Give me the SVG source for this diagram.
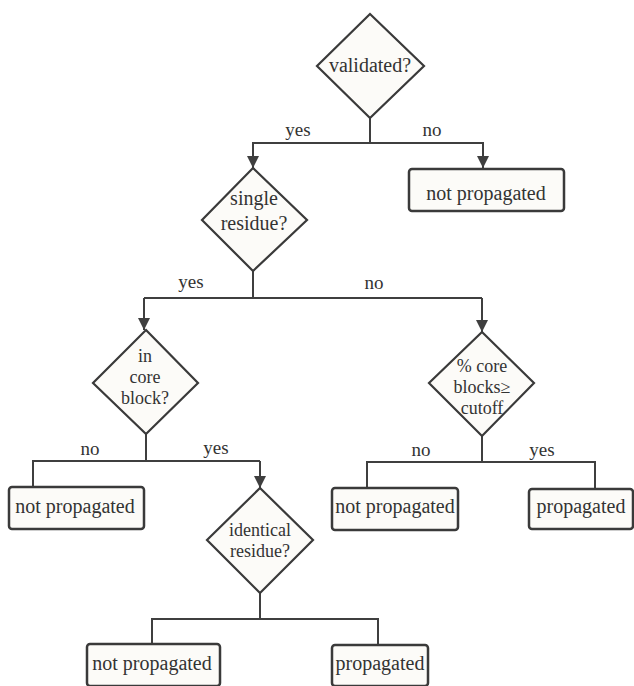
<svg xmlns="http://www.w3.org/2000/svg" width="634" height="686" viewBox="0 0 634 686">
<defs>
<style>
.bg{fill:#ffffff}
.dia{fill:#fcfbf8;stroke:#3a3a3a;stroke-width:2.2;stroke-linejoin:miter}
.box{fill:#fcfbf8;stroke:#3a3a3a;stroke-width:2.5}
.ln{fill:none;stroke:#3f3f3f;stroke-width:2}
text{font-family:"Liberation Serif","DejaVu Serif",serif;font-size:20px;fill:#333333}
.c{text-anchor:middle}
.lb{font-size:19px}
.dt{font-size:18px}
</style>
<marker id="ah" viewBox="0 0 10 10" refX="10" refY="5" markerWidth="12" markerHeight="12" markerUnits="userSpaceOnUse" orient="auto">
<path d="M0,0 L10,5 L0,10 z" fill="#3f3f3f"/>
</marker>
</defs>
<rect class="bg" x="0" y="0" width="634" height="686"/>

<g id="connectors">
<path class="ln" d="M370,118 V143"/>
<path class="ln" d="M253,168 V143 H483 V168" marker-end="url(#ah)"/>
<path class="ln" d="M253,143 V168" marker-end="url(#ah)"/>
<path class="ln" d="M253,271 V298"/>
<path class="ln" d="M144,298 H482"/>
<path class="ln" d="M144,298 V330" marker-end="url(#ah)"/>
<path class="ln" d="M482,298 V332" marker-end="url(#ah)"/>
<path class="ln" d="M146,434 V461"/>
<path class="ln" d="M33,487 V461 H260"/>
<path class="ln" d="M260,461 V488" marker-end="url(#ah)"/>
<path class="ln" d="M482,436 V462"/>
<path class="ln" d="M367,488 V462 H595 V489"/>
<path class="ln" d="M260,593 V619"/>
<path class="ln" d="M152,644 V619 H378 V645"/>
<text x="298" y="136" class="c lb">yes</text>
<text x="432" y="136" class="c lb">no</text>
<text x="191" y="288" class="c lb">yes</text>
<text x="374" y="289" class="c lb">no</text>
<text x="90" y="455" class="c lb">no</text>
<text x="216" y="454" class="c lb">yes</text>
<text x="421" y="456" class="c lb">no</text>
<text x="542" y="456" class="c lb">yes</text>
</g>

<g id="validated">
<polygon class="dia" points="370,14 424,66 370,118 317,66"/>
<text x="370" y="72" class="c">validated?</text>
</g>

<g id="np-top">
<rect class="box" x="409" y="169" width="155" height="42" rx="3"/>
<text x="486" y="200" class="c">not propagated</text>
</g>

<g id="single-residue">
<polygon class="dia" points="253,168 307,220 253,271 202,220"/>
<text x="254" y="205" class="c">single</text>
<text x="254" y="230" class="c">residue?</text>
</g>

<g id="in-core-block">
<polygon class="dia" points="146,330 198,383 146,434 93,383"/>
<text x="145" y="362" class="c dt">in</text>
<text x="145" y="383" class="c dt">core</text>
<text x="145" y="404" class="c dt">block?</text>
</g>

<g id="pct-core">
<polygon class="dia" points="482,332 534,383 482,436 429,383"/>
<text x="482" y="372" class="c dt">% core</text>
<text x="482" y="393" class="c dt">blocks≥</text>
<text x="482" y="414" class="c dt">cutoff</text>
</g>

<g id="np-left">
<rect class="box" x="9" y="487" width="135" height="42" rx="3"/>
<text x="75" y="513" class="c">not propagated</text>
</g>

<g id="identical-residue">
<polygon class="dia" points="260,488 313,540 260,593 207,540"/>
<text x="260" y="536" class="c dt">identical</text>
<text x="260" y="557" class="c dt">residue?</text>
</g>

<g id="np-right">
<rect class="box" x="332" y="488" width="126" height="42" rx="3"/>
<text x="395" y="513" class="c">not propagated</text>
</g>

<g id="p-right">
<rect class="box" x="529" y="489" width="104" height="40" rx="3"/>
<text x="581" y="513" class="c">propagated</text>
</g>

<g id="np-bottom">
<rect class="box" x="87" y="644" width="133" height="42" rx="3"/>
<text x="152" y="670" class="c">not propagated</text>
</g>

<g id="p-bottom">
<rect class="box" x="332" y="645" width="96" height="41" rx="3"/>
<text x="380" y="670" class="c">propagated</text>
</g>
</svg>
